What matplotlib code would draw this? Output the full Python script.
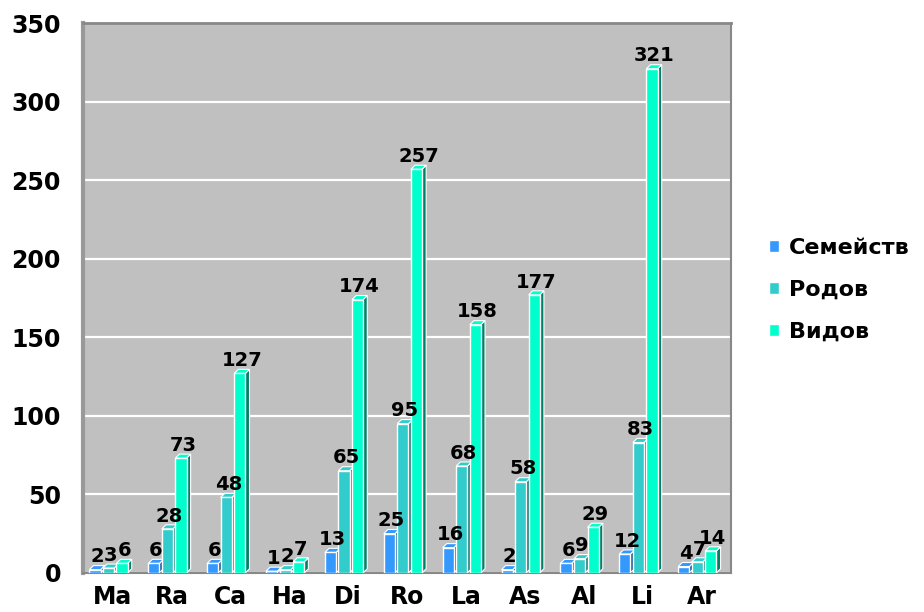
import numpy as np
import matplotlib
matplotlib.use("Agg")
import matplotlib.pyplot as plt
from matplotlib.patches import Polygon

categories = ["Ma", "Ra", "Ca", "Ha", "Di", "Ro", "La", "As", "Al", "Li", "Ar"]
families = [2, 6, 6, 1, 13, 25, 16, 2, 6, 12, 4]
genera = [3, 28, 48, 2, 65, 95, 68, 58, 9, 83, 7]
species = [6, 73, 127, 7, 174, 257, 158, 177, 29, 321, 14]
series_names = ["Семейств", "Родов", "Видов"]

front_colors = ["#3399FF", "#33CCCC", "#00FFCC"]
side_colors = ["#1F5C99", "#1F7A7A", "#008066"]

fig = plt.figure(figsize=(9.24, 6.12), dpi=100)
ax = fig.add_axes([0.090, 0.064, 0.701, 0.898])
ax.set_facecolor("#C0C0C0")

x = np.arange(len(categories))
width = 0.19
offsets = [-0.30, -0.07, 0.16]
# fake depth for the pseudo-3D look (in category units / data units)
dx, dy = 0.07, 2.6

for k, vals in enumerate([families, genera, species]):
    xs = x + offsets[k]
    ax.bar(xs, vals, width=width, color=front_colors[k], edgecolor="white",
           linewidth=1, zorder=3 + k * 2, label=series_names[k])
    for xi, v in zip(xs, vals):
        left, right = xi - width / 2, xi + width / 2
        side = Polygon([(right, 0), (right + dx, dy), (right + dx, v + dy), (right, v)],
                       closed=True, facecolor=side_colors[k], edgecolor="white",
                       linewidth=0.8, zorder=2 + k * 2)
        top = Polygon([(left, v), (left + dx, v + dy), (right + dx, v + dy), (right, v)],
                      closed=True, facecolor=front_colors[k], edgecolor="white",
                      linewidth=0.8, zorder=2 + k * 2)
        ax.add_patch(side)
        ax.add_patch(top)
        ax.text(xi + dx / 2, v + dy - 0.5, str(v), ha="center", va="bottom",
                fontsize=14, fontweight="bold", color="black", zorder=20)

ax.set_xlim(-0.5, len(categories) - 0.5)
ax.set_ylim(0, 350)
ax.set_yticks(np.arange(0, 351, 50))
ax.set_xticks(x)
ax.set_xticklabels(categories)
ax.tick_params(axis="both", length=0, labelsize=17)
ax.tick_params(axis="y", pad=16)
ax.tick_params(axis="x", pad=9)
for lab in ax.get_xticklabels() + ax.get_yticklabels():
    lab.set_fontweight("bold")

ax.grid(axis="y", color="white", linewidth=1.6, zorder=1)
ax.set_axisbelow(True)
ax.spines["left"].set_color("#999999")
ax.spines["left"].set_linewidth(3)
ax.spines["top"].set_color("#888888")
ax.spines["top"].set_linewidth(2)
ax.spines["right"].set_color("#888888")
ax.spines["right"].set_linewidth(1.5)
ax.spines["bottom"].set_color("#888888")
ax.spines["bottom"].set_linewidth(1.5)

leg = ax.legend(loc="center left", bbox_to_anchor=(1.0, 0.515), frameon=False,
                prop={"weight": "bold", "size": 16}, handlelength=0.45,
                handleheight=0.45, handletextpad=0.45, labelspacing=1.0,
                borderaxespad=1.3)

fig.savefig("out.png", dpi=100)
